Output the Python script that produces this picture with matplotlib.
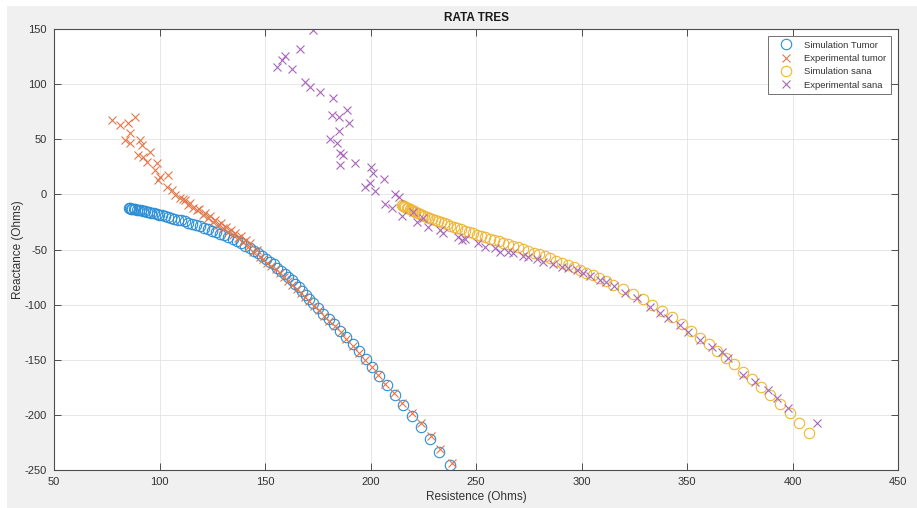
import matplotlib.pyplot as plt
from matplotlib.patches import Rectangle

# Simulation Tumor (circles)
sim_tumor_r = [85.5, 86.0, 86.6, 87.2, 87.9, 88.6, 89.4, 90.2, 91.1, 92.0, 93.0, 94.0,
               95.1, 96.2, 97.4, 98.6, 99.9, 101.2, 102.6, 104.0, 105.5, 107.0, 108.6,
               110.2, 111.9, 113.6, 115.4, 117.2, 119.0, 120.9, 122.8, 124.7, 126.7,
               128.7, 130.7, 132.7, 134.7, 136.7, 138.7, 140.7, 142.7, 144.7, 146.6,
               148.5, 150.4, 152.3, 154.1, 155.9, 157.7, 159.4, 161.1, 162.8, 164.4,
               166.0, 167.6, 169.2, 170.9, 172.9, 175.2, 177.6, 180.1, 182.7, 185.5,
               188.5, 191.5, 194.6, 197.7, 200.9, 204.2, 207.8, 211.6, 215.6, 219.8,
               224.0, 228.3, 232.7, 237.5]
sim_tumor_x = [-12.5, -12.7, -12.9, -13.1, -13.3, -13.5, -13.8, -14.1, -14.4, -14.8, -15.2, -15.6,
               -16.0, -16.5, -17.1, -17.7, -18.4, -19.0, -19.7, -20.4, -21.2, -22.0, -22.8,
               -23.6, -24.6, -25.6, -26.7, -27.8, -28.9, -30.1, -31.4, -32.8, -34.2,
               -35.7, -37.3, -39.0, -40.8, -42.6, -44.5, -46.6, -48.8, -51.0, -53.3,
               -55.7, -58.3, -60.9, -63.6, -66.4, -69.2, -72.1, -75.1, -78.1, -81.2,
               -84.4, -87.7, -91.1, -94.7, -98.8, -103.4, -108.2, -113.0, -118.0, -123.6,
               -129.6, -135.8, -142.2, -149.2, -156.6, -164.5, -173.0, -182.0, -191.2, -200.6,
               -210.8, -221.8, -233.5, -245.5]

# Experimental tumor (crosses)
exp_tumor_r = [77.3, 81.3, 85.2, 88.4, 83.6, 86.0, 86.0, 90.8, 91.6, 90.0, 92.3, 93.9,
               95.5, 98.7, 97.9, 100.2, 99.4, 104.2, 103.4, 105.8, 107.3, 109.7, 111.0,
               112.1, 113.6, 114.5, 116.0, 117.6, 118.5, 120.8, 121.5, 123.1, 124.0,
               125.5, 126.5, 127.9, 129.0, 130.2, 131.5, 132.6, 134.0, 135.0, 136.0,
               137.3, 138.5, 139.7, 141.0, 142.1, 143.0, 144.5, 146.0, 147.6,
               149.0, 151.0, 153.0, 155.0, 157.0, 159.0, 161.0, 163.0, 165.0, 167.0,
               169.0, 171.0, 173.0, 175.5, 178.0, 180.5, 183.0, 185.8, 188.5, 191.5,
               194.5, 197.5, 200.5, 203.5, 207.0, 211.0, 215.0, 219.5, 224.0, 228.5,
               233.0, 238.6]
exp_tumor_x = [67.5, 63.0, 64.5, 70.5, 49.3, 55.4, 46.3, 49.3, 44.8, 35.7, 34.2, 29.6,
               38.7, 28.2, 22.1, 16.0, 13.0, 17.6, 7.0, 4.0, -0.6, -3.6, -4.5,
               -5.1, -9.6, -8.0, -12.6, -14.2, -13.0, -18.7, -17.0, -21.7, -20.0,
               -24.8, -23.5, -27.8, -26.0, -30.8, -29.5, -33.9, -32.5, -36.9, -35.0,
               -39.8, -38.0, -42.9, -41.5, -47.4, -44.5, -52.0, -50.0, -56.5,
               -59.0, -62.0, -65.0, -68.0, -71.5, -75.0, -78.5, -82.0, -86.0, -89.5,
               -93.5, -97.0, -101.0, -105.0, -110.0, -114.5, -119.5, -125.0, -131.0, -137.5,
               -143.5, -150.0, -157.0, -164.0, -172.0, -180.0, -189.0, -198.0, -207.5, -219.0,
               -231.0, -243.7]

# Simulation sana (circles)
sim_sana_r = [214.8, 215.3, 215.9, 216.5, 217.2, 217.9, 218.7, 219.5, 220.4, 221.3, 222.3,
              223.3, 224.4, 225.5, 226.7, 227.9, 229.2, 230.5, 231.9, 233.3, 234.8, 236.3,
              237.9, 239.5, 241.2, 242.9, 244.7, 246.5, 248.4, 250.3, 252.3, 254.3, 256.4,
              258.5, 260.7, 262.9, 265.2, 267.5, 269.9, 272.3, 274.8, 277.3, 279.9, 282.5,
              285.2, 287.9, 290.7, 293.5, 296.4, 299.3, 302.3, 305.3, 308.4, 311.6, 315.1,
              319.9, 324.6, 329.0, 333.6, 338.2, 342.9, 347.6, 352.0, 356.3, 360.4, 364.4,
              368.3, 372.3, 376.4, 380.6, 385.0, 389.5, 394.0, 398.6, 403.3, 408.0]
sim_sana_x = [-9.6, -10.2, -10.8, -11.4, -12.0, -12.7, -13.4, -14.2, -15.0, -15.9, -16.8,
              -17.7, -18.6, -19.6, -20.6, -21.6, -22.5, -23.4, -24.3, -25.3, -26.3, -27.3,
              -28.5, -29.6, -30.7, -31.8, -32.9, -34.0, -35.2, -36.5, -37.7, -38.9, -40.1,
              -41.4, -42.7, -44.0, -45.3, -46.7, -48.1, -49.6, -51.2, -52.8, -54.5, -56.3,
              -58.1, -60.0, -62.0, -64.0, -66.0, -68.5, -71.0, -73.5, -76.2, -79.0, -82.2,
              -86.0, -90.5, -95.0, -100.0, -105.5, -111.5, -117.8, -124.0, -130.0, -136.0,
              -142.0, -148.0, -154.3, -160.8, -167.5, -174.5, -182.0, -190.0, -198.6, -207.1,
              -216.7]

# Experimental sana (crosses)
exp_sana_r = [172.9, 166.6, 159.5, 157.9, 155.5, 162.6, 168.9, 171.3, 176.1, 182.4, 188.7,
              181.6, 185.1, 190.0, 185.1, 180.8, 184.0, 185.5, 187.1, 185.5, 192.6, 200.1,
              201.0, 206.5, 199.8, 197.4, 202.1, 211.6, 213.6, 206.9, 210.0, 214.8, 220.3,
              221.9, 225.0, 227.4, 232.9, 234.5, 241.6, 243.2, 244.8, 251.1, 254.3, 259.0,
              261.4, 265.3, 267.7, 272.3, 274.8, 278.7, 281.9, 286.6, 290.6, 293.7, 297.7,
              300.8, 304.0, 308.8, 311.5, 315.5, 320.6, 326.5, 332.5, 337.2, 341.1, 346.7,
              350.6, 356.2, 361.7, 366.4, 369.6, 376.7, 382.2, 388.5, 392.5, 398.0, 411.7]
exp_sana_x = [149.1, 131.6, 125.5, 121.9, 115.8, 113.4, 102.2, 97.7, 93.1, 87.1, 76.5,
              72.0, 69.9, 64.5, 57.8, 50.0, 46.9, 37.8, 35.7, 26.6, 28.7, 25.1,
              19.7, 13.7, 10.0, 6.4, 3.1, 0.3, -2.4, -8.7, -12.6, -19.5, -15.7,
              -24.8, -21.7, -29.3, -32.3, -35.3, -38.4, -41.4, -40.8, -44.4, -48.0, -49.0,
              -52.0, -52.0, -53.5, -56.0, -57.1, -58.9, -61.1, -63.2, -65.6, -67.1, -68.6,
              -71.6, -74.0, -77.7, -79.5, -83.0, -89.5, -94.0, -101.9, -107.9, -112.4, -118.5,
              -124.6, -132.1, -138.2, -142.7, -148.7, -163.8, -169.9, -177.4, -185.0, -194.0, -207.1]

labels = ['Simulation Tumor', 'Experimental tumor', 'Simulation sana', 'Experimental sana']
colors = ['#2b8fd8', '#e3774a', '#f0b635', '#a866bc']

plt.rcParams['font.family'] = ['Liberation Sans', 'DejaVu Sans']
plt.rcParams['axes.unicode_minus'] = False

fig = plt.figure(figsize=(9.17, 5.08), dpi=100)
fig.patch.set_facecolor('white')
fig.patches.append(Rectangle((7 / 917, 0), 1, 1 - 6 / 508, transform=fig.transFigure,
                             facecolor='#f0f0f0', edgecolor='none', zorder=-10))

ax = fig.add_axes([54 / 917, 1 - 470 / 508, 844 / 917, 441 / 508])
ax.set_facecolor('white')

ax.plot(sim_tumor_r, sim_tumor_x, 'o', mfc='none', mec=colors[0], ms=7.5, mew=0.8, label=labels[0])
ax.plot(exp_tumor_r, exp_tumor_x, 'x', color=colors[1], ms=6, mew=0.8, label=labels[1])
ax.plot(sim_sana_r, sim_sana_x, 'o', mfc='none', mec=colors[2], ms=7.5, mew=0.8, label=labels[2])
ax.plot(exp_sana_r, exp_sana_x, 'x', color=colors[3], ms=6, mew=0.8, label=labels[3])

ax.set_xlim(50, 450)
ax.set_ylim(-250, 150)
ax.set_xticks(range(50, 451, 50))
ax.set_yticks(range(-250, 151, 50))
ax.grid(True, color='#e3e3e3', linewidth=0.6)
ax.set_axisbelow(True)
ax.tick_params(direction='in', length=5, width=0.7, colors='#4d4d4d', labelcolor='#333333',
               labelsize=8, top=True, right=True, pad=5)
for s in ax.spines.values():
    s.set_color('#4d4d4d')
    s.set_linewidth(0.8)

ax.set_title('RATA TRES', fontsize=8.5, fontweight='bold', color='#1a1a1a', pad=6)
ax.set_xlabel('Resistence (Ohms)', fontsize=8.5, color='#333333', labelpad=3)
ax.set_ylabel('Reactance (Ohms)', fontsize=8.5, color='#333333')
ax.yaxis.set_label_coords(-0.0355, 0.5)

leg = ax.legend(loc='upper right', fontsize=6.8, frameon=True, fancybox=False,
                edgecolor='#4d4d4d', borderaxespad=0.75, handlelength=2.8,
                handletextpad=0.5, labelspacing=0.45, borderpad=0.5)
leg.get_frame().set_linewidth(0.7)
for t in leg.get_texts():
    t.set_color('#333333')

fig.savefig('out.png', dpi=100, facecolor=fig.get_facecolor())
